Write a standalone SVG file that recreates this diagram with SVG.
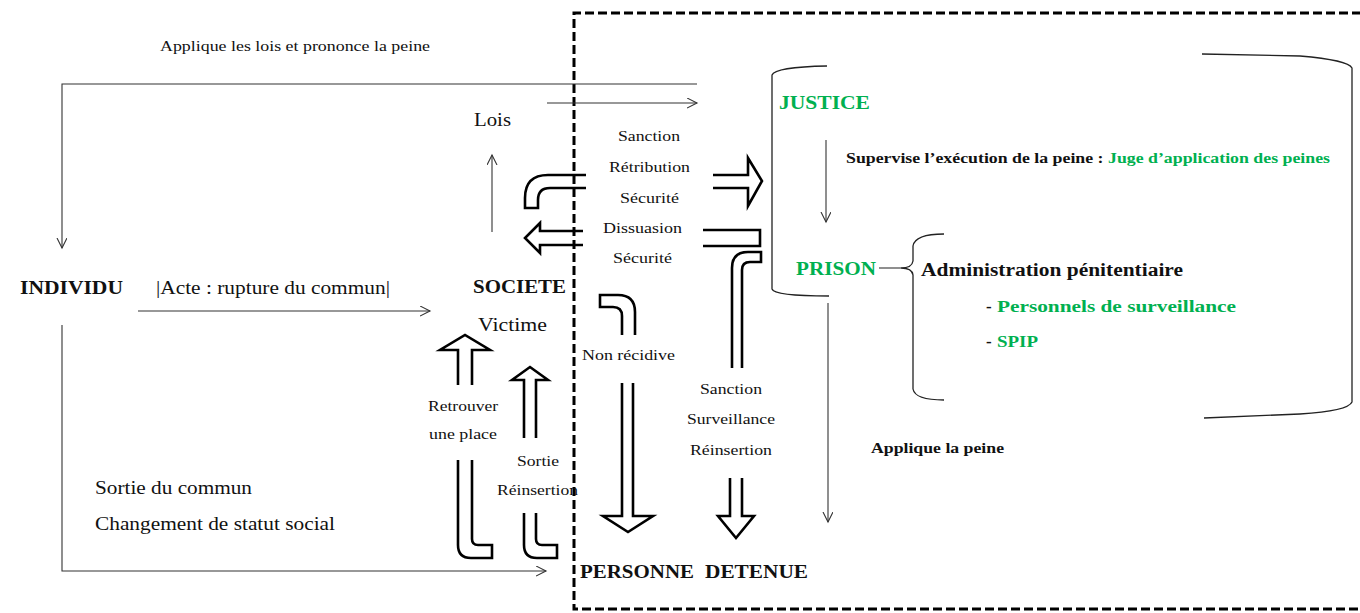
<svg xmlns="http://www.w3.org/2000/svg" width="1360" height="613" viewBox="0 0 1360 613">
<style>
text{font-family:"Liberation Serif","Times New Roman",serif;fill:#111}
.s15{font-size:15px}
.s17{font-size:17px}
.s18{font-size:18px}
.b{font-weight:bold}
.g{fill:#00B050}
.thin{fill:none;stroke:#333;stroke-width:1.1}
.blk{fill:none;stroke:#000;stroke-width:2.6;stroke-linejoin:miter}
.brk{fill:none;stroke:#222;stroke-width:1.3}
.dash{fill:none;stroke:#000;stroke-width:3;stroke-dasharray:9 4}
</style>
<defs>
<marker id="ah" markerUnits="userSpaceOnUse" markerWidth="12" markerHeight="12" refX="10" refY="5" orient="auto">
<path d="M0,0 L10,5 L0,10" fill="none" stroke="#333" stroke-width="1.1"/>
</marker>
</defs>
<rect width="1360" height="613" fill="#fff"/>

<g id="dashed-box">
<path class="dash" d="M1400,13 L574,13 L574,609 L1400,609"/>
</g>

<g id="connectors">
<path class="thin" d="M697,84 L62,84 L62,248" marker-end="url(#ah)"/>
<path class="thin" d="M547,103 L697,103" marker-end="url(#ah)"/>
<path class="thin" d="M492,232 L492,155" marker-end="url(#ah)"/>
<path class="thin" d="M138,311 L430,311" marker-end="url(#ah)"/>
<path class="thin" d="M62,325 L62,571 L546,571" marker-end="url(#ah)"/>
<path class="thin" d="M826,140 L826,222" marker-end="url(#ah)"/>
<path class="thin" d="M828,303 L828,522" marker-end="url(#ah)"/>
<path class="thin" d="M879,268 L901,268"/>
<path class="blk" d="M586,175 L548,175 Q525,175 525,198 L525,208 L538,208 L538,200 Q538,188 550,188 L586,188"/>
<path class="blk" d="M713,175 L748,175 L748,158 L762,181 L748,206 L748,188 L713,188"/>
<path class="blk" d="M583,231 L540,231 L540,223 L525,238 L540,253 L540,245 L583,245"/>
<path class="blk" d="M703,230 L760,230 L760,246 L703,246"/>
<path class="blk" d="M732,368 L732,268 Q732,252 748,252 L761,252 L761,262 L750,262 Q742,262 742,270 L742,368"/>
<path class="blk" d="M730,478 L730,516 L718,516 L736,538 L754,516 L742,516 L742,478"/>
<path class="blk" d="M622,335 L622,316 Q622,307 613,307 L600,307 L600,295 L618,295 Q635,295 635,312 L635,335"/>
<path class="blk" d="M622,383 L622,516 L603,516 L628,532 L653,516 L633,516 L633,383"/>
<path class="blk" d="M458,385 L458,350 L440,350 L465,335 L490,350 L472,350 L472,385"/>
<path class="blk" d="M458,460 L458,545 Q458,558 471,558 L492,558 L492,545 L478,545 Q472,545 472,539 L472,460"/>
<path class="blk" d="M524,438 L524,380 L512,380 L530,367 L548,380 L536,380 L536,438"/>
<path class="blk" d="M524,513 L524,545 Q524,558 537,558 L557,558 L557,545 L542,545 Q536,545 536,539 L536,513"/>
</g>

<g id="brackets">
<path class="brk" d="M827,66 Q775,67 772,75 L772,289 Q774,296 829,296"/>
<path class="brk" d="M1202,54 L1300,56 Q1348,60 1352,68 L1352,402 Q1348,411 1300,414 L1204,418"/>
<path class="brk" d="M944,234 Q915,234 913,246 L913,261 Q912,268 901,268 Q912,268 913,275 L913,389 Q915,400 944,400"/>
</g>

<g id="top-label"><text class="s15" x="160" y="51" textLength="270" lengthAdjust="spacingAndGlyphs">Applique les lois et prononce la peine</text></g>
<g id="lois"><text class="s18" x="474" y="126" textLength="37" lengthAdjust="spacingAndGlyphs">Lois</text></g>

<g id="center-labels">
<text class="s15" x="618" y="141" textLength="62" lengthAdjust="spacingAndGlyphs">Sanction</text>
<text class="s15" x="609" y="172" textLength="81" lengthAdjust="spacingAndGlyphs">Rétribution</text>
<text class="s15" x="620" y="203" textLength="59" lengthAdjust="spacingAndGlyphs">Sécurité</text>
<text class="s15" x="603" y="233" textLength="79" lengthAdjust="spacingAndGlyphs">Dissuasion</text>
<text class="s15" x="613" y="263" textLength="59" lengthAdjust="spacingAndGlyphs">Sécurité</text>
</g>

<g id="justice">
<text class="s18 b g" x="779" y="109" textLength="91" lengthAdjust="spacingAndGlyphs">JUSTICE</text>
<text class="s15 b" x="846" y="163" textLength="484" lengthAdjust="spacingAndGlyphs">Supervise l’exécution de la peine : <tspan class="g">Juge d’application des peines</tspan></text>
</g>

<g id="individu">
<text class="s18 b" x="20" y="294" textLength="103" lengthAdjust="spacingAndGlyphs">INDIVIDU</text>
<text class="s18" x="156" y="294" textLength="234" lengthAdjust="spacingAndGlyphs">|Acte : rupture du commun|</text>
</g>

<g id="societe">
<text class="s18 b" x="473" y="293" textLength="93" lengthAdjust="spacingAndGlyphs">SOCIETE</text>
<text class="s18" x="478" y="331" textLength="69" lengthAdjust="spacingAndGlyphs">Victime</text>
</g>

<g id="prison">
<text class="s18 b g" x="796" y="275" textLength="80" lengthAdjust="spacingAndGlyphs">PRISON</text>
<text class="s18 b" x="921" y="276" textLength="262" lengthAdjust="spacingAndGlyphs">Administration pénitentiaire</text>
<text class="s17 b" x="986" y="312">-</text>
<text class="s17 b g" x="997" y="312" textLength="239" lengthAdjust="spacingAndGlyphs">Personnels de surveillance</text>
<text class="s17 b" x="986" y="347">-</text>
<text class="s17 b g" x="997" y="347" textLength="41" lengthAdjust="spacingAndGlyphs">SPIP</text>
<text class="s15 b" x="871" y="453" textLength="133" lengthAdjust="spacingAndGlyphs">Applique la peine</text>
</g>

<g id="lower-labels">
<text class="s15" x="582" y="360" textLength="93" lengthAdjust="spacingAndGlyphs">Non récidive</text>
<text class="s15" x="428" y="411" textLength="70" lengthAdjust="spacingAndGlyphs">Retrouver</text>
<text class="s15" x="429" y="439" textLength="68" lengthAdjust="spacingAndGlyphs">une place</text>
<text class="s15" x="517" y="466" textLength="42" lengthAdjust="spacingAndGlyphs">Sortie</text>
<text class="s15" x="497" y="495" textLength="81" lengthAdjust="spacingAndGlyphs">Réinsertion</text>
<text class="s15" x="700" y="394" textLength="62" lengthAdjust="spacingAndGlyphs">Sanction</text>
<text class="s15" x="687" y="424" textLength="88" lengthAdjust="spacingAndGlyphs">Surveillance</text>
<text class="s15" x="690" y="455" textLength="82" lengthAdjust="spacingAndGlyphs">Réinsertion</text>
</g>

<g id="sortie">
<text class="s18" x="95" y="494" textLength="157" lengthAdjust="spacingAndGlyphs">Sortie du commun</text>
<text class="s18" x="95" y="530" textLength="240" lengthAdjust="spacingAndGlyphs">Changement de statut social</text>
</g>

<g id="personne-detenue">
<text class="s18 b" x="580" y="578" textLength="114" lengthAdjust="spacingAndGlyphs">PERSONNE</text>
<text class="s18 b" x="705" y="578" textLength="103" lengthAdjust="spacingAndGlyphs">DETENUE</text>
</g>
</svg>
